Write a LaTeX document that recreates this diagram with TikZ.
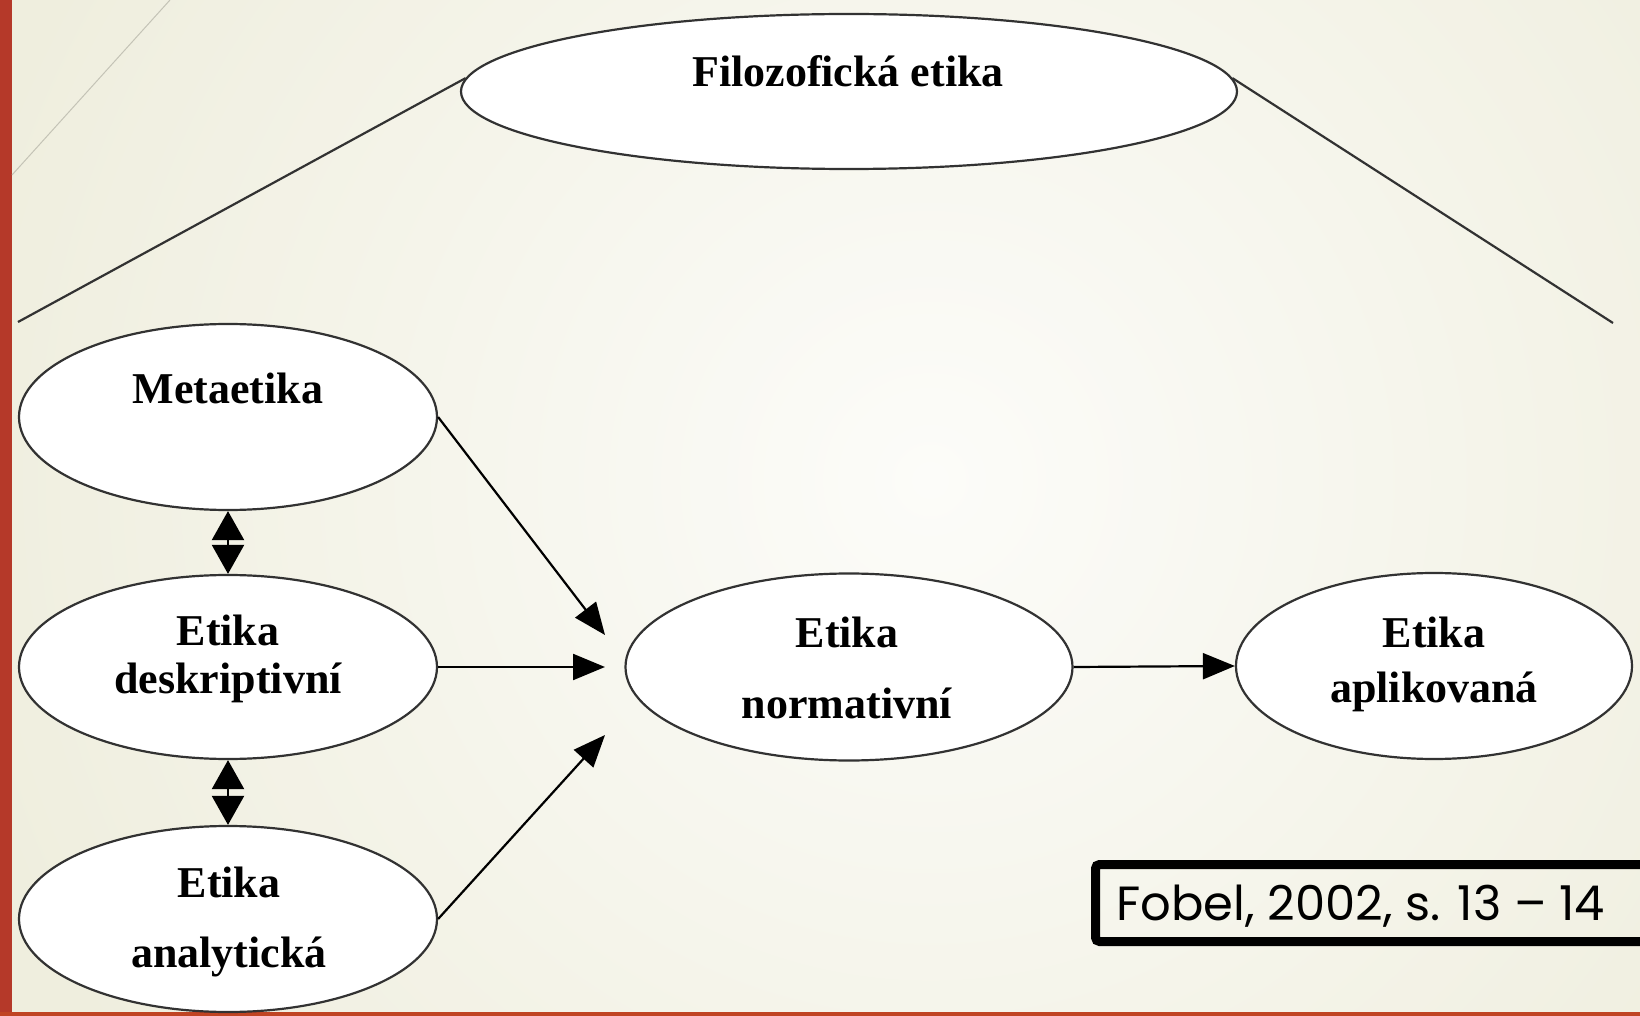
\documentclass[tikz,border=0pt]{standalone}
\usepackage{fontspec}
\setmainfont{Liberation Serif}
\newfontfamily\citefont{Poppins}
\usetikzlibrary{shapes.geometric,arrows.meta}

\definecolor{bgout}{RGB}{239,238,222}
\definecolor{bgin}{RGB}{252,252,249}
\definecolor{barred}{RGB}{181,57,41}
\definecolor{edge}{RGB}{50,50,50}

\begin{document}
\begin{tikzpicture}[x=0.5pt,y=-0.5pt,
		blob/.style={ellipse, draw=edge, line width=1.1pt, fill=white, inner sep=0pt},
		lbl/.style={anchor=base, inner sep=0pt, font=\fontsize{22}{26}\selectfont\bfseries},
		link/.style={line width=1.1pt, edge},
		arr/.style={line width=1.1pt, -{Triangle[length=16pt,width=13pt]}},
		dbl/.style={line width=1.1pt, {Triangle[length=14.5pt,width=16pt]}-{Triangle[length=14.5pt,width=16pt]}},
		citebox/.style={draw, line width=4.5pt, rounded corners=2pt, inner sep=0pt, outer sep=0pt}]
		\useasboundingbox (0,0) rectangle (1640,1016);
		\fill[bgout] (0,0) rectangle (1640,1016);
		\begin{scope}
			\clip (0,0) rectangle (1640,1016);
			\shade[inner color=bgin, outer color=bgout] (930,480) circle (1000);
		\end{scope}
		\fill[barred] (0,0) rectangle (12,1016);
		\fill[barred!85!orange] (0,1012) rectangle (1640,1016);
		\draw[line width=0.5pt, black!18!bgout] (170,0) -- (12,175);
		%%%%%%%%%%%%%
		\node[blob, minimum width=388pt, minimum height=77.5pt] (fil) at (849,91.5) {};
		\node[blob, minimum width=209pt, minimum height=93pt] (meta) at (228,417) {};
		\node[blob, minimum width=209pt, minimum height=92pt] (deskr) at (228,667) {};
		\node[blob, minimum width=209pt, minimum height=93pt] (anal) at (228,919) {};
		\node[blob, minimum width=223.5pt, minimum height=93.5pt] (norm) at (849,667) {};
		\node[blob, minimum width=198pt, minimum height=93pt] (apl) at (1434,666) {};
		%%%%%%%%%%%%%
		\node[lbl] (fil-t) at (848,87) {Filozofická etika};
		\node[lbl] (meta-t) at (228,404) {Metaetika};
		\node[lbl] (deskr-t1) at (228,645) {Etika};
		\node[lbl] (deskr-t2) at (228,693) {deskriptivní};
		\node[lbl] (anal-t1) at (229,897) {Etika};
		\node[lbl] (anal-t2) at (229,967) {analytická};
		\node[lbl] (norm-t1) at (847,647) {Etika};
		\node[lbl] (norm-t2) at (847,718) {normativní};
		\node[lbl] (apl-t1) at (1434,647) {Etika};
		\node[lbl] (apl-t2) at (1434,702) {aplikovaná};
		%%%%%%%%%%%%%
		\coordinate (lend) at (18,322);
		\coordinate (rend) at (1613,323);
		\coordinate (in-a) at (605,635);
		\coordinate (in-b) at (605,667);
		\coordinate (in-c) at (605,735);
		\draw[link] (fil.178) to (lend);
		\draw[link] (fil.2) to (rend);
		\draw[arr] (meta.east) to (in-a);
		\draw[arr] (deskr.east) to (in-b);
		\draw[arr] (anal.east) to (in-c);
		\draw[arr] (norm.east) to (apl.west);
		\draw[dbl] (meta.south) to (deskr.north);
		\draw[dbl] (deskr.south) to (anal.north);
		%%%%%%%%%%%%%
		\node[citebox, anchor=west, minimum width=282pt, minimum height=38.5pt] (cite) at (1095.5,903) {};
		\node[anchor=base west, inner sep=0pt, font=\citefont\fontsize{24}{28}\selectfont] (cite-t) at (1116,920) {Fobel, 2002, s. 13 – 14};
	\end{tikzpicture}
\end{document}
